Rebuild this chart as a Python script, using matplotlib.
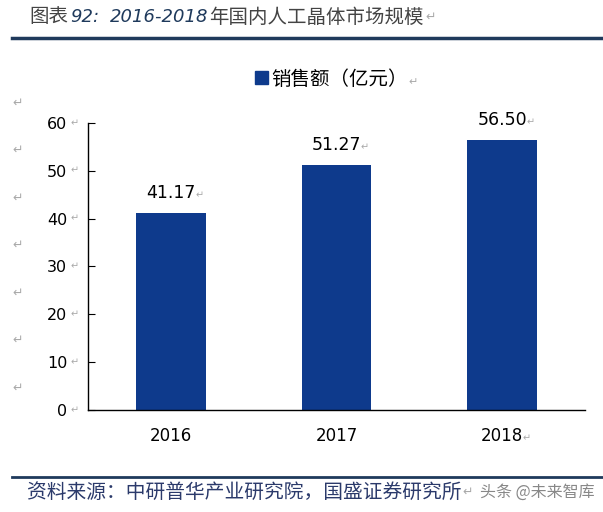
import matplotlib
matplotlib.use("Agg")
import matplotlib.pyplot as plt
from matplotlib.lines import Line2D
from matplotlib.patches import Patch

plt.rcParams['font.family'] = ['DejaVu Sans', 'Noto Sans CJK SC']

years = ["2016", "2017", "2018"]
sales = [41.17, 51.27, 56.50]
value_labels = ["41.17", "51.27", "56.50"]
yticks = [0, 10, 20, 30, 40, 50, 60]
series_name = "销售额（亿元）"

bar_color = "#0E3A8C"
navy = "#1F3A5C"
gray = "#AAAAAA"
W, H = 603, 512

fig = plt.figure(figsize=(6.03, 5.12), dpi=100)
ax = fig.add_axes([0.146, 0.199, 0.824, 0.561])

x = list(range(len(years)))
ax.bar(x, sales, width=0.42, color=bar_color, zorder=2)
ax.set_xlim(-0.5, 2.5)
ax.set_ylim(0, 60)
ax.set_yticks(yticks)
ax.set_yticklabels([str(v) for v in yticks])
ax.set_xticks(x)
ax.set_xticklabels(years)
ax.tick_params(axis='y', direction='in', length=5, labelsize=11.5, pad=15, colors='black')
ax.tick_params(axis='x', length=0, labelsize=12, pad=12)
for s in ['top', 'right']:
    ax.spines[s].set_visible(False)
for s in ['left', 'bottom']:
    ax.spines[s].set_linewidth(1.0)

for xi, v, lab in zip(x, sales, value_labels):
    ax.annotate(lab, (xi, v), xytext=(0, 8), textcoords='offset points',
                ha='center', va='bottom', fontsize=12.5)
    ax.annotate("↵", (xi, v), xytext=(17.5, 9), textcoords='offset points',
                ha='left', va='bottom', fontsize=7, color=gray)

# small return marks after tick labels
for t in yticks:
    ax.annotate("↵", (0, t), xycoords=('axes fraction', 'data'), xytext=(-7, 0),
                textcoords='offset points', ha='right', va='center', fontsize=7, color=gray)
ax.annotate("↵", (2, 0), xytext=(15, -20), textcoords='offset points',
            ha='left', va='center', fontsize=7, color=gray)

leg = ax.legend(handles=[Patch(color=bar_color, label=series_name)],
                loc='lower center', bbox_to_anchor=(0.49, 1.055), frameon=False,
                prop={'family': ['Noto Sans CJK SC'], 'size': 14},
                handlelength=0.65, handleheight=0.65, handletextpad=0.2)
fig.text(408 / W, 1 - 82 / H, "↵", fontsize=8, color=gray, va='center')

# title
ty = 1 - 17 / H
fig.text(29 / W, ty, "图表", fontsize=14, family=['Noto Sans CJK SC'], color="#444444", va='center')
fig.text(70 / W, ty, "92:", fontsize=13, style='italic', color=navy, va='center', family=['DejaVu Sans'])
fig.text(110 / W, ty, "2016-2018", fontsize=13, style='italic', color=navy, va='center', family=['DejaVu Sans'])
fig.text(209 / W, ty, "年国内人工晶体市场规模", fontsize=14, family=['Noto Sans CJK SC'], color="#444444", va='center')
fig.text(425 / W, ty, "↵", fontsize=9, color=gray, va='center')
fig.add_artist(Line2D([12 / W, 1.0], [1 - 38 / H, 1 - 38 / H], color="#1F3A5C", lw=2.5))

# bottom rule and source
fig.add_artist(Line2D([12 / W, 1.0], [1 - 477 / H, 1 - 477 / H], color="#1F3A5C", lw=2))
sy = 1 - 492 / H
fig.text(27 / W, sy, "资料来源：中研普华产业研究院，国盛证券研究所", fontsize=14.2,
         family=['Noto Sans CJK SC'], color="#2B3A6B", va='center')
fig.text(462 / W, sy, "↵", fontsize=9, color=gray, va='center')
fig.text(480 / W, sy, "头条 @未来智库", fontsize=11.5, family=['Noto Sans CJK SC'],
         color="#888888", va='center')

# paragraph marks on left
for yp in [103, 150, 198, 245, 293, 340, 388]:
    fig.text(12 / W, 1 - yp / H, "↵", fontsize=9, color=gray, va='center')

fig.savefig("out.png", dpi=100, facecolor='white')
